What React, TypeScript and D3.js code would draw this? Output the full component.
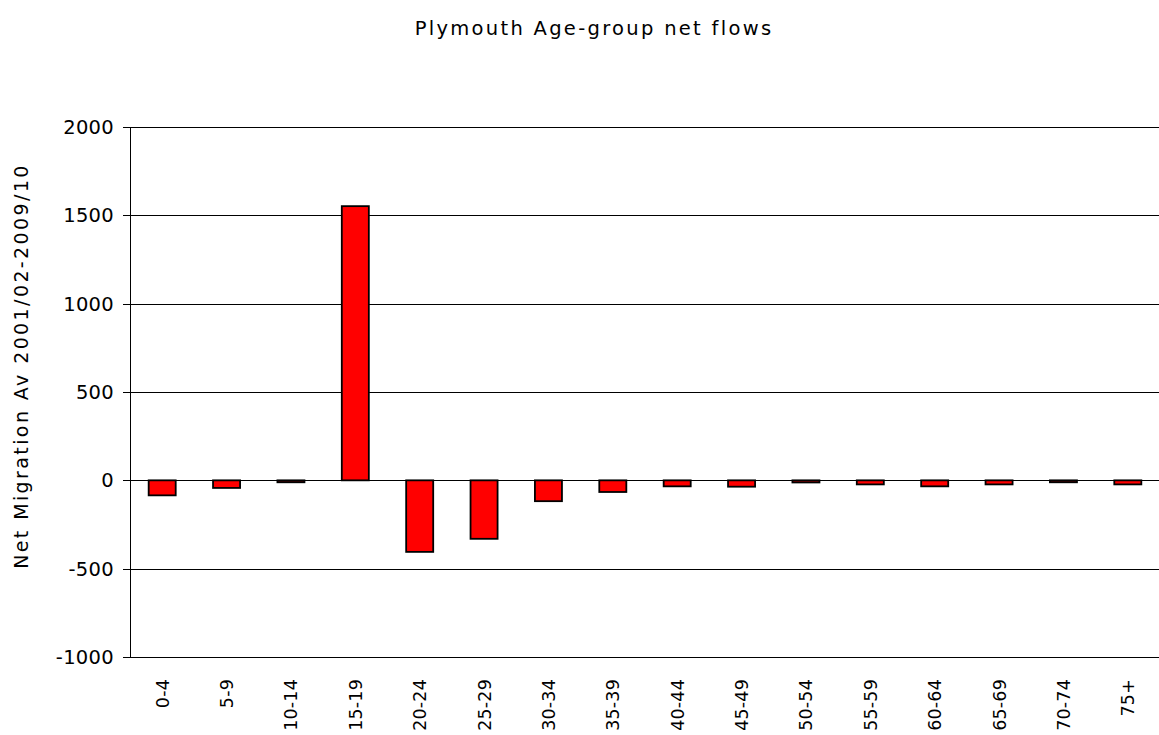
import React from "react";
import * as d3 from "d3";

const categories = ["0-4","5-9","10-14","15-19","20-24","25-29","30-34","35-39","40-44","45-49","50-54","55-59","60-64","65-69","70-74","75+"];
const values = [-85,-43,-11,1552,-405,-331,-118,-66,-34,-36,-12,-23,-34,-23,-11,-23];
const yTicks = [-1000,-500,0,500,1000,1500,2000];
const title = "Plymouth Age-group net flows";
const yLabel = "Net Migration Av 2001/02-2009/10";

const W = 1159, H = 735;
const left = 130, right = 1160, top = 127, bottom = 657;
const FONT = "'DejaVu Sans', sans-serif";

export default function App() {
  const x = d3.scaleBand<string>().domain(categories).range([left, right]).paddingInner(0.58).paddingOuter(0.29);
  const y = d3.scaleLinear().domain([-1000, 2000]).range([bottom, top]);
  return (
    <svg width={W} height={H} style={{ position: "absolute", left: 0, top: 0, background: "#fff" }}>
      <text x={594} y={35} textAnchor="middle" fontFamily={FONT} fontSize={19.5} letterSpacing={2.3} fill="#000">{title}</text>
      {yTicks.map(t => (
        <g key={t}>
          <line x1={left} x2={right} y1={Math.round(y(t)) + 0.5} y2={Math.round(y(t)) + 0.5} stroke="#000" strokeWidth={1} />
          <line x1={left - 7} x2={left} y1={Math.round(y(t)) + 0.5} y2={Math.round(y(t)) + 0.5} stroke="#000" />
          <text x={114} y={y(t)} dy="0.36em" textAnchor="end" fontFamily={FONT} fontSize={19.5} letterSpacing={0.3} fill="#000">{t}</text>
        </g>
      ))}
      <line x1={left + 0.5} x2={left + 0.5} y1={top} y2={bottom} stroke="#000" />
      {categories.map((c, i) => {
        const v = values[i];
        const y0 = y(0), y1 = y(v);
        return (
          <rect key={c} x={x(c)} y={Math.min(y0, y1)} width={x.bandwidth()} height={Math.max(1, Math.abs(y1 - y0))}
            fill="#ff0000" stroke="#000" strokeWidth={1.8} />
        );
      })}
      {categories.map(c => (
        <text key={c} transform={`translate(${(x(c) ?? 0) + x.bandwidth() / 2 + 6.5},${679}) rotate(-90)`} textAnchor="end"
          fontFamily={FONT} fontSize={17.5} letterSpacing={0.2} fill="#000">{c}</text>
      ))}
      <text transform={`translate(28,${366}) rotate(-90)`} textAnchor="middle" fontFamily={FONT} fontSize={19} letterSpacing={2.4} fill="#000">{yLabel}</text>
    </svg>
  );
}
